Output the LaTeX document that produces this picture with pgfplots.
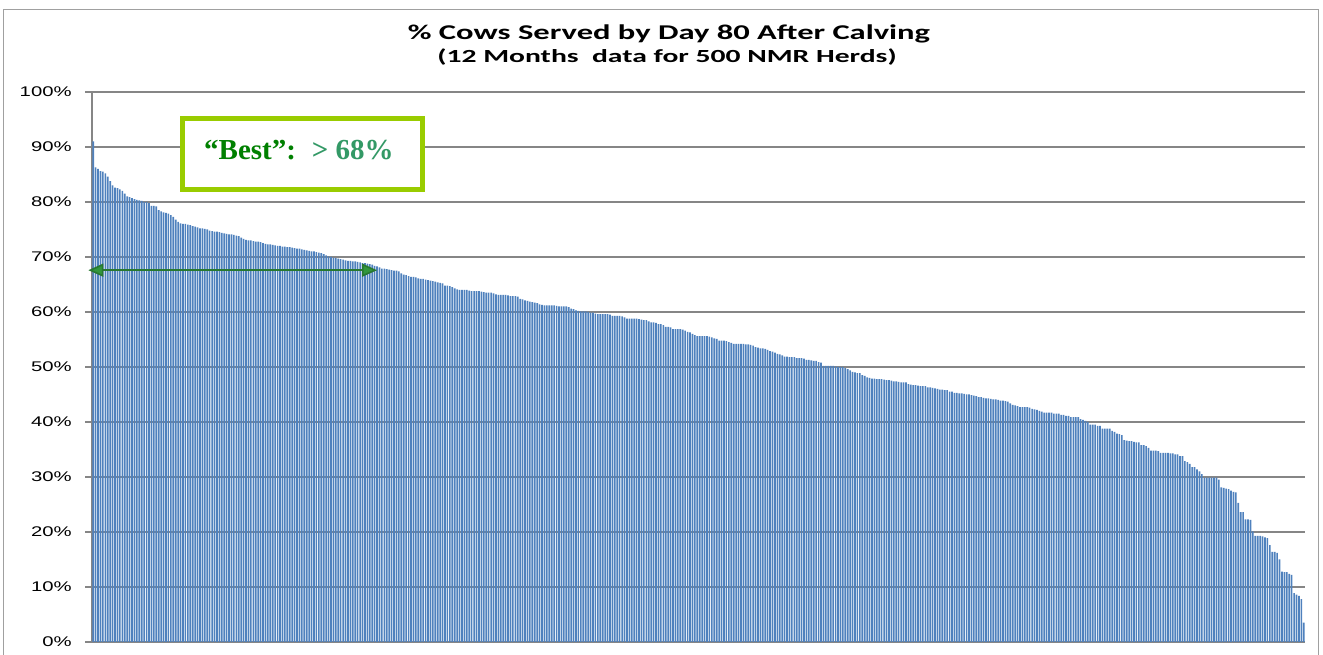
\documentclass[border=0pt]{standalone}
\usepackage{fontspec}
\setmainfont{Liberation Sans}
\newfontfamily\titlefont{Carlito}
\newfontfamily\seriffont{Liberation Serif}
\usepackage{pgfplots}
\pgfplotsset{compat=1.18}
\usepackage{pgfplotstable}
\usetikzlibrary{arrows.meta}
\definecolor{barblue}{RGB}{79,129,189}
\definecolor{gridgray}{RGB}{134,134,134}
\definecolor{boxgreen}{RGB}{153,204,0}
\definecolor{darkgreen}{RGB}{0,128,0}
\definecolor{seagreen}{RGB}{51,153,102}
\definecolor{arrowgreen}{RGB}{50,150,60}
\definecolor{borderg}{RGB}{160,160,160}

\pgfplotstableread[row sep=\\,header=false]{
91.0\\86.3\\86.0\\85.6\\85.5\\85.2\\84.6\\83.8\\83.0\\82.6\\
82.5\\82.3\\82.0\\81.5\\81.0\\80.9\\80.7\\80.5\\80.4\\80.3\\
80.2\\80.0\\80.0\\79.8\\79.3\\79.3\\79.2\\78.5\\78.3\\78.1\\
78.0\\77.9\\77.6\\77.3\\76.8\\76.4\\76.1\\76.0\\76.0\\75.9\\
75.8\\75.6\\75.5\\75.4\\75.2\\75.2\\75.1\\75.0\\74.8\\74.7\\
74.6\\74.6\\74.5\\74.4\\74.3\\74.2\\74.1\\74.1\\74.0\\73.9\\
73.8\\73.5\\73.3\\73.1\\73.0\\73.0\\72.9\\72.8\\72.8\\72.7\\
72.5\\72.4\\72.3\\72.3\\72.2\\72.1\\72.0\\72.0\\71.9\\71.9\\
71.8\\71.8\\71.7\\71.6\\71.5\\71.5\\71.4\\71.3\\71.2\\71.1\\
71.0\\71.0\\70.9\\70.8\\70.7\\70.5\\70.3\\70.1\\70.0\\69.9\\
69.8\\69.7\\69.6\\69.5\\69.4\\69.3\\69.3\\69.2\\69.2\\69.1\\
69.0\\68.9\\68.9\\68.8\\68.7\\68.6\\68.4\\68.3\\68.1\\67.9\\
67.9\\67.8\\67.7\\67.6\\67.5\\67.5\\67.4\\67.0\\66.8\\66.7\\
66.5\\66.4\\66.4\\66.3\\66.1\\66.0\\66.0\\65.9\\65.8\\65.7\\
65.6\\65.5\\65.4\\65.3\\65.2\\64.8\\64.8\\64.7\\64.5\\64.3\\
64.1\\64.0\\64.0\\64.0\\64.0\\63.9\\63.8\\63.8\\63.8\\63.8\\
63.7\\63.6\\63.5\\63.5\\63.5\\63.4\\63.2\\63.1\\63.1\\63.1\\
63.1\\63.0\\62.9\\62.9\\62.9\\62.8\\62.4\\62.3\\62.1\\62.0\\
61.9\\61.8\\61.7\\61.6\\61.4\\61.3\\61.2\\61.2\\61.2\\61.2\\
61.2\\61.1\\61.0\\61.0\\61.0\\61.0\\60.9\\60.6\\60.5\\60.3\\
60.2\\60.1\\60.1\\60.1\\60.0\\59.9\\59.9\\59.7\\59.6\\59.6\\
59.6\\59.6\\59.6\\59.5\\59.3\\59.3\\59.3\\59.3\\59.2\\59.0\\
58.8\\58.8\\58.8\\58.8\\58.8\\58.7\\58.6\\58.5\\58.5\\58.3\\
58.1\\58.1\\58.0\\57.8\\57.8\\57.6\\57.3\\57.3\\57.2\\56.9\\
56.9\\56.9\\56.9\\56.8\\56.6\\56.4\\56.3\\56.0\\55.8\\55.6\\
55.6\\55.6\\55.6\\55.6\\55.5\\55.4\\55.2\\55.1\\54.8\\54.8\\
54.8\\54.7\\54.5\\54.4\\54.2\\54.2\\54.2\\54.2\\54.2\\54.1\\
54.1\\54.0\\53.9\\53.6\\53.5\\53.4\\53.4\\53.3\\53.1\\52.9\\
52.8\\52.6\\52.4\\52.3\\52.1\\51.9\\51.9\\51.8\\51.8\\51.8\\
51.6\\51.6\\51.6\\51.5\\51.3\\51.3\\51.2\\51.1\\51.1\\50.9\\
50.8\\50.2\\50.2\\50.2\\50.2\\50.2\\50.1\\50.0\\50.0\\50.0\\
49.8\\49.6\\49.4\\49.1\\49.0\\48.9\\48.9\\48.5\\48.4\\48.1\\
48.0\\47.9\\47.9\\47.8\\47.8\\47.8\\47.7\\47.6\\47.6\\47.5\\
47.4\\47.4\\47.3\\47.2\\47.2\\47.2\\46.9\\46.8\\46.7\\46.7\\
46.6\\46.5\\46.5\\46.5\\46.3\\46.3\\46.2\\46.1\\46.0\\45.9\\
45.9\\45.8\\45.8\\45.5\\45.5\\45.3\\45.3\\45.2\\45.2\\45.1\\
45.0\\45.0\\44.9\\44.8\\44.7\\44.5\\44.5\\44.4\\44.3\\44.3\\
44.2\\44.1\\44.1\\44.0\\43.9\\43.9\\43.8\\43.7\\43.4\\43.1\\
43.0\\42.9\\42.7\\42.7\\42.7\\42.7\\42.6\\42.4\\42.3\\42.2\\
42.0\\41.9\\41.7\\41.7\\41.7\\41.7\\41.5\\41.5\\41.5\\41.3\\
41.3\\41.1\\41.1\\40.9\\40.9\\40.9\\40.9\\40.5\\40.4\\40.2\\
40.0\\39.5\\39.5\\39.5\\39.3\\39.3\\38.8\\38.8\\38.8\\38.8\\
38.4\\38.2\\37.9\\37.8\\37.6\\36.7\\36.6\\36.5\\36.5\\36.4\\
36.3\\36.3\\35.8\\35.8\\35.6\\35.3\\34.8\\34.8\\34.8\\34.7\\
34.4\\34.4\\34.4\\34.4\\34.3\\34.3\\34.1\\34.1\\33.8\\33.8\\
32.9\\32.7\\32.4\\31.8\\31.8\\31.4\\31.0\\30.5\\29.9\\29.9\\
29.9\\29.9\\29.9\\29.9\\29.5\\28.1\\28.0\\27.9\\27.8\\27.5\\
27.3\\27.2\\25.3\\23.6\\23.6\\22.3\\22.3\\22.2\\20.1\\19.3\\
19.3\\19.3\\19.2\\19.0\\18.9\\17.6\\16.4\\16.4\\16.2\\15.0\\
12.8\\12.7\\12.7\\12.4\\12.2\\8.9\\8.6\\8.4\\7.8\\3.5\\
}\herds

\begin{document}
\begin{tikzpicture}[x=1pt,y=1pt]
\useasboundingbox (0,0) rectangle (1323,655);
\draw[borderg, line width=1pt] (3,-10) rectangle (1318,645);
\begin{axis}[
  at={(92pt,13pt)}, anchor=south west, scale only axis,
  width=1213pt, height=550pt,
  xmin=-0.5, xmax=499.5, ymin=0, ymax=100,
  axis x line=bottom, axis y line=left,
  axis line style={gridgray, line width=1.2pt, -},
  xtick=\empty,
  ytick={0,10,...,100},
  ymajorgrids,
  grid style={gridgray, line width=1.2pt},
  tick style={gridgray, line width=1.2pt},
  major tick length=7pt, tick align=outside,
  /pgf/number format/assume math mode=true,
  yticklabel={\pgfmathprintnumber{\tick}\%},
  yticklabel style={font=\fontsize{14}{14}\selectfont, xscale=1.45, anchor=east, inner sep=0pt, xshift=-9pt},
  clip=false,
]
\addplot[ybar, bar width=0.68, fill=barblue, draw=none] table[x expr=\coordindex, y index=0] {\herds};
\draw[arrowgreen!80!black, line width=1.6pt,
  {Triangle[length=15pt,width=13pt,fill=arrowgreen]}-{Triangle[length=15pt,width=13pt,fill=arrowgreen]}]
  (axis cs:-2,67.6) -- (axis cs:117,67.6);
\end{axis}
\draw[boxgreen, line width=5pt, fill=white] (182.5,536.5) rectangle (422.5,465);
\node[anchor=base, inner sep=0pt] at (299,495) {\seriffont\bfseries\fontsize{29}{29}\selectfont \textcolor{darkgreen}{“Best”:}\hspace{0.55em}\textcolor{seagreen}{> 68\%}};
\node[anchor=base, inner sep=0pt, xscale=1.55] at (669,615) {\titlefont\bfseries\fontsize{21}{21}\selectfont \% Cows Served by Day 80 After Calving};
\node[anchor=base, inner sep=0pt, xscale=1.6] at (667,592) {\titlefont\bfseries\fontsize{18.5}{18.5}\selectfont (12 Months\ \ data for 500 NMR Herds)};
\end{tikzpicture}
\end{document}
